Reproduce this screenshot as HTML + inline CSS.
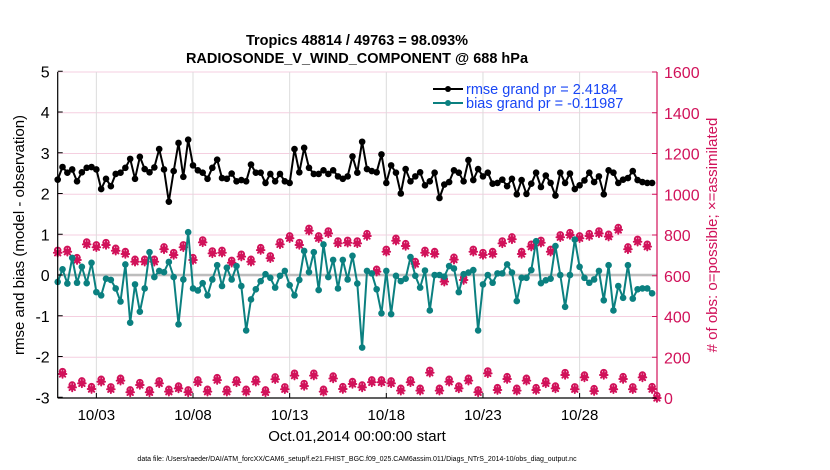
<!DOCTYPE html>
<html><head><meta charset="utf-8"><style>
html,body{margin:0;padding:0;background:#fff}
svg{display:block;font-family:"Liberation Sans",Arial,sans-serif}
</style></head><body>
<svg id="chart" width="830" height="470" viewBox="0 0 830 470" xmlns="http://www.w3.org/2000/svg">
<text x="357" y="45" font-size="14.5" font-weight="bold" text-anchor="middle">Tropics 48814 / 49763 = 98.093%</text>
<text x="357" y="63" font-size="14.5" font-weight="bold" text-anchor="middle">RADIOSONDE_V_WIND_COMPONENT @ 688 hPa</text>
<g id="grid"></g><g id="series"></g><g id="axes"></g>
<text transform="translate(24,235) rotate(-90)" font-size="15" text-anchor="middle">rmse and bias (model - observation)</text>
<text transform="translate(717,235) rotate(-90)" font-size="15" text-anchor="middle" fill="#d1125a"># of obs: o=possible; ×=assimilated</text>
<text x="357" y="441" font-size="15" text-anchor="middle">Oct.01,2014 00:00:00 start</text>
<text x="357" y="461" font-size="7" text-anchor="middle">data file: /Users/raeder/DAI/ATM_forcXX/CAM6_setup/f.e21.FHIST_BGC.f09_025.CAM6assim.011/Diags_NTrS_2014-10/obs_diag_output.nc</text>
<g>
<line x1="433" y1="89" x2="463" y2="89" stroke="#000" stroke-width="2"/><circle cx="448" cy="89" r="3" fill="#000"/>
<text x="466" y="94" font-size="14.5" fill="#1846f5">rmse grand pr = 2.4184</text>
<line x1="433" y1="103" x2="463" y2="103" stroke="#0b8080" stroke-width="2"/><circle cx="448" cy="103" r="3" fill="#0b8080"/>
<text x="466" y="108" font-size="14.5" fill="#1846f5">bias grand pr = -0.11987</text>
</g>
</svg>
<script>
const rmse=[2.34,2.65,2.51,2.59,2.30,2.52,2.63,2.65,2.59,2.11,2.36,2.18,2.48,2.51,2.63,2.85,2.36,2.90,2.60,2.52,2.64,3.09,2.59,1.80,2.55,3.24,2.41,3.32,2.69,2.57,2.51,2.36,2.63,2.83,2.38,2.36,2.49,2.30,2.33,2.30,2.71,2.51,2.51,2.26,
2.48,2.30,2.48,2.30,2.26,3.09,2.52,3.12,2.63,2.48,2.48,2.57,2.48,2.57,2.42,2.36,2.42,2.91,2.51,3.27,2.60,2.55,2.52,2.96,2.26,2.69,2.51,2.00,2.60,2.30,2.42,2.52,2.20,2.30,2.51,1.89,2.22,2.28,2.57,2.51,2.30,
2.82,2.33,2.60,2.42,2.51,2.24,2.26,2.34,2.18,2.36,1.98,2.33,1.99,2.24,2.51,2.16,2.44,2.26,1.95,2.51,2.26,2.49,2.11,2.20,2.32,2.51,2.28,2.42,1.98,2.57,2.51,2.26,2.34,2.38,2.55,2.33,2.28,2.26,2.26];
const bias=[-0.17,0.14,-0.21,0.42,-0.19,0.20,-0.20,0.30,-0.42,-0.50,-0.09,-0.12,-0.33,-0.65,0.26,-1.17,-0.23,-0.90,-0.33,0.56,-0.05,0.10,0.07,0.32,-0.05,-1.21,-0.11,1.05,-0.33,-0.38,-0.20,-0.50,-0.11,0.24,-0.27,0.18,-0.11,0.22,-0.27,-1.36,-0.60,-0.35,-0.15,0.02,
-0.07,-0.31,-0.02,0.10,-0.25,-0.50,-0.12,0.59,0.07,0.56,-0.37,0.75,-0.05,0.37,-0.33,0.37,-0.11,0.47,-0.21,-1.78,0.10,0.04,-0.35,-0.94,0.10,-0.96,-0.02,-0.15,-0.09,0.44,-0.02,-0.31,0.11,-0.87,0.00,0.00,-0.04,0.22,0.16,-0.42,0.02,
0.06,0.12,-1.36,-0.23,0,-0.19,0.04,0.04,0.26,0.06,-0.64,-0.07,-0.07,0.12,0.83,-0.20,-0.13,-0.09,0.71,0,-0.78,0,0.87,0.20,-0.07,-0.19,-0.11,0.10,-0.62,0.24,-0.87,-0.27,-0.56,0.24,-0.58,-0.35,-0.33,-0.33,-0.45];
const obsHigh=[713,718,677,754,740,751,723,707,669,669,669,730,702,740,677,764,710,713,664,694,669,726,
686,754,784,751,821,784,808,759,762,759,795,620,718,772,746,658,713,707,571,679,
579,718,702,707,759,779,707,743,762,718,789,800,784,795,808,792,825,730,767,743];
const obsLow=[118,52,72,44,80,43,85,28,64,28,72,31,47,28,77,31,88,31,77,31,80,28,92,43,110,59,110,31,96,44,69,
52,77,77,72,36,77,36,124,36,80,47,85,28,121,39,93,36,85,39,72,47,113,43,101,34,113,43,93,43,101,44];
const obsEnd=0;
const leftTicks=[-3,-2,-1,0,1,2,3,4,5];
const rightTicks=[0,200,400,600,800,1000,1200,1400,1600];
const dateTickDays=[2,7,12,17,22,27];
const dateTickLabels=["10/03","10/08","10/13","10/18","10/23","10/28"];

const NS="http://www.w3.org/2000/svg";
const X0=57.7,DAY=19.33,X1=657;
function xDay(d){return X0+d*DAY;}
function xIdx(i){return xDay(i/4);}
function yL(v){return 275-v*40.75;}
function yR(c){return 398-c*0.20375;}
function mk(tag,attrs,parent){const e=document.createElementNS(NS,tag);for(const k in attrs)e.setAttribute(k,attrs[k]);parent.appendChild(e);return e;}
const grid=document.getElementById('grid'),series=document.getElementById('series'),axes=document.getElementById('axes');
const PINK="#d1125a",TEAL="#0b8080";

rightTicks.forEach(t=>{const y=yR(t);
 const g=mk('line',{x1:X0,x2:X1,y1:y,y2:y,stroke:"#f5cfe0","stroke-width":1},grid);
 
 
 const tk=mk('line',{x1:X1,x2:X1-5,y1:y,y2:y,stroke:PINK,"stroke-width":1},axes);
 
 
 const tx=mk('text',{x:X1+7,y:y+6,"font-size":16,fill:PINK},axes);tx.textContent=t;
 
 
});
dateTickDays.forEach((d,k)=>{const x=xDay(d);
 const g=mk('line',{x1:x,x2:x,y1:72,y2:398,stroke:"#dcdcdc","stroke-width":1},grid);
 
 
 const tk=mk('line',{x1:x,x2:x,y1:398,y2:393,stroke:"#000","stroke-width":1},axes);
 
 
 const tx=mk('text',{x:x,y:420,"font-size":15,"text-anchor":"middle"},axes);tx.textContent=dateTickLabels[k];
 
 
});
leftTicks.forEach(t=>{const y=yL(t);
 const tk=mk('line',{x1:X0,x2:X0+5,y1:y,y2:y,stroke:"#000","stroke-width":1},axes);
 
 
 const tx=mk('text',{x:X0-8,y:y+6,"font-size":16,"text-anchor":"end"},axes);tx.textContent=t;
 
 
});
const zl=mk('line',{x1:X0,x2:X1,y1:yL(0),y2:yL(0),stroke:"#bdbdbd","stroke-width":2.5},grid);


const la=mk('line',{x1:X0,x2:X0,y1:72,y2:398,stroke:"#000","stroke-width":1.2},axes);


const ba=mk('line',{x1:X0,x2:X1,y1:398,y2:398,stroke:"#000","stroke-width":1.2},axes);


const ra=mk('line',{x1:X1,x2:X1,y1:72,y2:398,stroke:PINK,"stroke-width":1.2},axes);



function obsMarker(x,c){
 const g=mk('g',{},series);
 
 
 const yp=yR(c+12),ya=yR(c);
 mk('circle',{cx:x,cy:yp,r:2.8,fill:"none",stroke:PINK,"stroke-width":1.8},g);
 const s=3.8;
 mk('path',{d:`M${x-s},${ya}H${x+s}M${x},${ya-s}V${ya+s}M${x-2.7},${ya-2.7}L${x+2.7},${ya+2.7}M${x-2.7},${ya+2.7}L${x+2.7},${ya-2.7}`,stroke:PINK,"stroke-width":2,"stroke-linecap":"round"},g);
 mk('circle',{cx:x,cy:ya,r:2.4,fill:PINK},g);
}
obsHigh.forEach((c,k)=>obsMarker(xIdx(2*k),c));
obsLow.forEach((c,k)=>obsMarker(xIdx(2*k+1),c));
obsMarker(xIdx(124),obsEnd);

function line(vals,color,name){
 const p=mk('polyline',{points:vals.map((v,i)=>xIdx(i).toFixed(1)+","+yL(v).toFixed(1)).join(" "),fill:"none",stroke:color,"stroke-width":2,"stroke-linejoin":"round"},series);
 
 
 vals.forEach((v,i)=>{const c=mk('circle',{cx:xIdx(i),cy:yL(v),r:3.3,fill:color},series);
  
  });
}
line(bias,TEAL,'bias');
line(rmse,"#000",'rmse');
</script>
</body></html>
